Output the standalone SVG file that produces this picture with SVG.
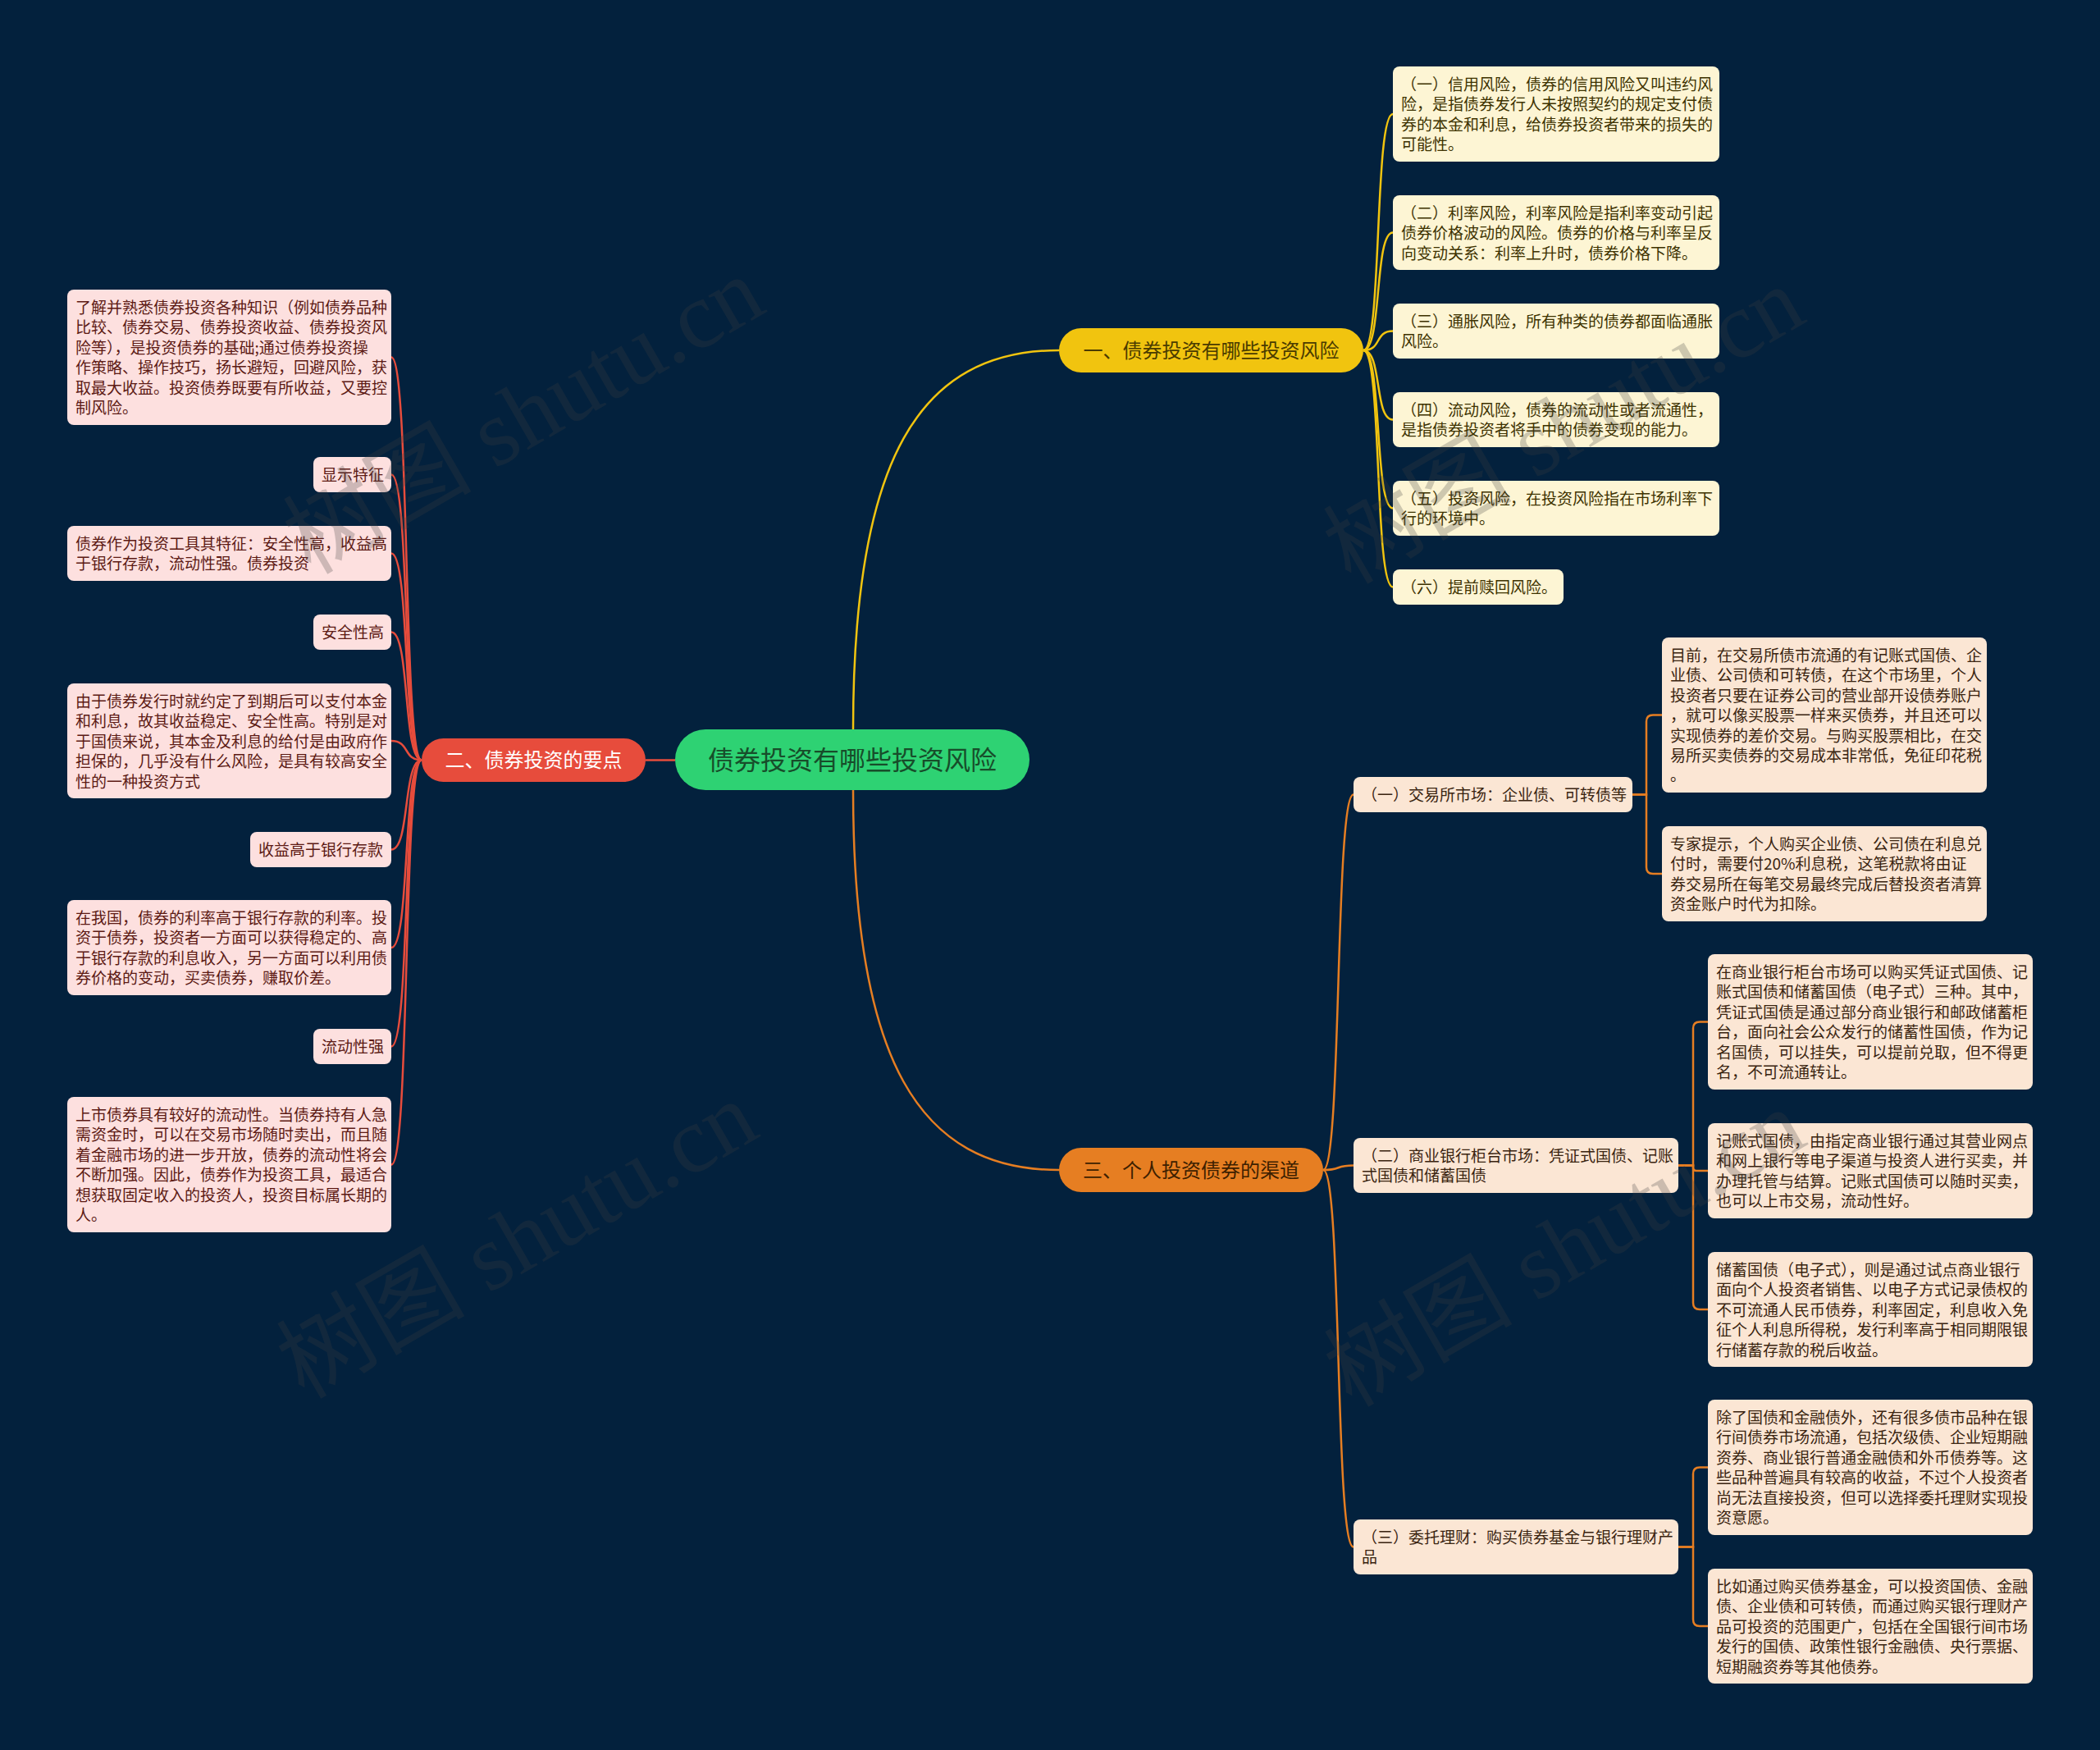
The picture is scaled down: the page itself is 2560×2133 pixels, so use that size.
<svg xmlns="http://www.w3.org/2000/svg" width="2560" height="2133" viewBox="0 0 2560 2133">
<style>
.t{font-family:"Noto Sans CJK SC","Noto Sans",sans-serif;}
.leafy rect{fill:#fdf5d4;}
.leafy text{fill:#3d3200;font-size:19px;}
.leafo rect{fill:#fbe6d4;}
.leafo text{fill:#3a2410;font-size:19px;}
.leafr rect{fill:#fde0df;}
.leafr text{fill:#5c1a14;font-size:19px;}
.cy{fill:none;stroke:#f1c40f;stroke-width:2.5;}
.cr{fill:none;stroke:#e74c3c;stroke-width:2.5;}
.co{fill:none;stroke:#e67e22;stroke-width:2.5;}
.wm{font-family:"Liberation Serif","Noto Sans CJK SC",serif;font-size:115px;fill:#404040;opacity:0.25;}
</style>
<rect x="0" y="0" width="2560" height="2133" fill="#03213d"/>

<g id="connectors">
<path class="cy" d="M 1040 889 C 1040 560, 1120 427, 1291 427"/>
<path class="co" d="M 1040 963 C 1040 1293, 1120 1426, 1291 1426"/>
<path class="cr" d="M 823 926.5 L 787 926.5"/>
<path class="cy" d="M 1662 427 C 1685 427, 1675 139, 1698 139"/>
<path class="cy" d="M 1662 427 C 1685 427, 1675 283.5, 1698 283.5"/>
<path class="cy" d="M 1662 427 C 1685 427, 1675 403.5, 1698 403.5"/>
<path class="cy" d="M 1662 427 C 1685 427, 1675 511.5, 1698 511.5"/>
<path class="cy" d="M 1662 427 C 1685 427, 1675 619.5, 1698 619.5"/>
<path class="cy" d="M 1662 427 C 1685 427, 1675 715.5, 1698 715.5"/>
<path class="cr" d="M 514 926.5 C 491 926.5, 500 435.5, 477 435.5"/>
<path class="cr" d="M 514 926.5 C 491 926.5, 500 578.5, 477 578.5"/>
<path class="cr" d="M 514 926.5 C 491 926.5, 500 674.5, 477 674.5"/>
<path class="cr" d="M 514 926.5 C 491 926.5, 500 770.5, 477 770.5"/>
<path class="cr" d="M 514 926.5 C 491 926.5, 500 903, 477 903"/>
<path class="cr" d="M 514 926.5 C 491 926.5, 500 1035.5, 477 1035.5"/>
<path class="cr" d="M 514 926.5 C 491 926.5, 500 1155, 477 1155"/>
<path class="cr" d="M 514 926.5 C 491 926.5, 500 1275.5, 477 1275.5"/>
<path class="cr" d="M 514 926.5 C 491 926.5, 500 1419.5, 477 1419.5"/>
<path class="co" d="M 1613 1426 C 1636 1426, 1627 968.5, 1650 968.5"/>
<path class="co" d="M 1613 1426 C 1636 1426, 1627 1420.5, 1650 1420.5"/>
<path class="co" d="M 1613 1426 C 1636 1426, 1627 1885.5, 1650 1885.5"/>
<path class="co" d="M 1990 968.5 H 2007 V 879.5 Q 2007 871.5 2015 871.5 H 2026"/>
<path class="co" d="M 1990 968.5 H 2007 V 1057 Q 2007 1065 2015 1065 H 2026"/>
<path class="co" d="M 2046 1420.5 H 2064 V 1253.5 Q 2064 1245.5 2072 1245.5 H 2082"/>
<path class="co" d="M 2046 1420.5 H 2064 V 1423 Q 2064 1427 2068 1427 H 2082"/>
<path class="co" d="M 2046 1420.5 H 2064 V 1588 Q 2064 1596 2072 1596 H 2082"/>
<path class="co" d="M 2046 1885.5 H 2064 V 1796.5 Q 2064 1788.5 2072 1788.5 H 2082"/>
<path class="co" d="M 2046 1885.5 H 2064 V 1974 Q 2064 1982 2072 1982 H 2082"/>
</g>

<g id="root">
<rect x="823" y="889" width="432" height="74" rx="37" fill="#2ed273"/>
<text class="t" x="1039" y="937.5" text-anchor="middle" font-size="32" fill="#174d2a">债券投资有哪些投资风险</text>
</g>

<g id="branch1">
<rect x="1291" y="400" width="371" height="54" rx="27" fill="#f1c40f"/>
<text class="t" x="1476.5" y="435.5" text-anchor="middle" font-size="24" fill="#4a3b00">一、债券投资有哪些投资风险</text>
</g>
<g id="branch2">
<rect x="514" y="900" width="273" height="53" rx="26.5" fill="#e74c3c"/>
<text class="t" x="650.5" y="935" text-anchor="middle" font-size="24" fill="#ffffff">二、债券投资的要点</text>
</g>
<g id="branch3">
<rect x="1291" y="1399" width="322" height="54" rx="27" fill="#e67e22"/>
<text class="t" x="1452" y="1434.5" text-anchor="middle" font-size="24" fill="#3d1f00">三、个人投资债券的渠道</text>
</g>

<g id="y1" class="leafy"><rect x="1698" y="81" width="398" height="116" rx="8"/>
<text class="t" x="1708" y="110">（一）信用风险，债券的信用风险又叫违约风<tspan x="1708" dy="24.4">险，是指债券发行人未按照契约的规定支付债</tspan><tspan x="1708" dy="24.4">券的本金和利息，给债券投资者带来的损失的</tspan><tspan x="1708" dy="24.4">可能性。</tspan></text></g>
<g id="y2" class="leafy"><rect x="1698" y="238" width="398" height="91" rx="8"/>
<text class="t" x="1708" y="267">（二）利率风险，利率风险是指利率变动引起<tspan x="1708" dy="24.4">债券价格波动的风险。债券的价格与利率呈反</tspan><tspan x="1708" dy="24.4">向变动关系：利率上升时，债券价格下降。</tspan></text></g>
<g id="y3" class="leafy"><rect x="1698" y="370" width="398" height="67" rx="8"/>
<text class="t" x="1708" y="399">（三）通胀风险，所有种类的债券都面临通胀<tspan x="1708" dy="24.4">风险。</tspan></text></g>
<g id="y4" class="leafy"><rect x="1698" y="478" width="398" height="67" rx="8"/>
<text class="t" x="1708" y="507">（四）流动风险，债券的流动性或者流通性，<tspan x="1708" dy="24.4">是指债券投资者将手中的债券变现的能力。</tspan></text></g>
<g id="y5" class="leafy"><rect x="1698" y="586" width="398" height="67" rx="8"/>
<text class="t" x="1708" y="615">（五）投资风险，在投资风险指在市场利率下<tspan x="1708" dy="24.4">行的环境中。</tspan></text></g>
<g id="y6" class="leafy"><rect x="1698" y="694" width="208" height="43" rx="8"/>
<text class="t" x="1708" y="723">（六）提前赎回风险。</text></g>

<g id="r1" class="leafr"><rect x="82" y="353" width="395" height="165" rx="8"/>
<text class="t" x="92" y="382">了解并熟悉债券投资各种知识（例如债券品种<tspan x="92" dy="24.4">比较、债券交易、债券投资收益、债券投资风</tspan><tspan x="92" dy="24.4">险等），是投资债券的基础;通过债券投资操</tspan><tspan x="92" dy="24.4">作策略、操作技巧，扬长避短，回避风险，获</tspan><tspan x="92" dy="24.4">取最大收益。投资债券既要有所收益，又要控</tspan><tspan x="92" dy="24.4">制风险。</tspan></text></g>
<g id="r2" class="leafr"><rect x="382" y="557" width="95" height="43" rx="8"/>
<text class="t" x="392" y="586">显示特征</text></g>
<g id="r3" class="leafr"><rect x="82" y="641" width="395" height="67" rx="8"/>
<text class="t" x="92" y="670">债券作为投资工具其特征：安全性高，收益高<tspan x="92" dy="24.4">于银行存款，流动性强。债券投资</tspan></text></g>
<g id="r4" class="leafr"><rect x="382" y="749" width="95" height="43" rx="8"/>
<text class="t" x="392" y="778">安全性高</text></g>
<g id="r5" class="leafr"><rect x="82" y="833" width="395" height="140" rx="8"/>
<text class="t" x="92" y="862">由于债券发行时就约定了到期后可以支付本金<tspan x="92" dy="24.4">和利息，故其收益稳定、安全性高。特别是对</tspan><tspan x="92" dy="24.4">于国债来说，其本金及利息的给付是由政府作</tspan><tspan x="92" dy="24.4">担保的，几乎没有什么风险，是具有较高安全</tspan><tspan x="92" dy="24.4">性的一种投资方式</tspan></text></g>
<g id="r6" class="leafr"><rect x="305" y="1014" width="172" height="43" rx="8"/>
<text class="t" x="315" y="1043">收益高于银行存款</text></g>
<g id="r7" class="leafr"><rect x="82" y="1097" width="395" height="116" rx="8"/>
<text class="t" x="92" y="1126">在我国，债券的利率高于银行存款的利率。投<tspan x="92" dy="24.4">资于债券，投资者一方面可以获得稳定的、高</tspan><tspan x="92" dy="24.4">于银行存款的利息收入，另一方面可以利用债</tspan><tspan x="92" dy="24.4">券价格的变动，买卖债券，赚取价差。</tspan></text></g>
<g id="r8" class="leafr"><rect x="382" y="1254" width="95" height="43" rx="8"/>
<text class="t" x="392" y="1283">流动性强</text></g>
<g id="r9" class="leafr"><rect x="82" y="1337" width="395" height="165" rx="8"/>
<text class="t" x="92" y="1366">上市债券具有较好的流动性。当债券持有人急<tspan x="92" dy="24.4">需资金时，可以在交易市场随时卖出，而且随</tspan><tspan x="92" dy="24.4">着金融市场的进一步开放，债券的流动性将会</tspan><tspan x="92" dy="24.4">不断加强。因此，债券作为投资工具，最适合</tspan><tspan x="92" dy="24.4">想获取固定收入的投资人，投资目标属长期的</tspan><tspan x="92" dy="24.4">人。</tspan></text></g>

<g id="s1" class="leafo"><rect x="1650" y="947" width="340" height="43" rx="8"/>
<text class="t" x="1660" y="976">（一）交易所市场：企业债、可转债等</text></g>
<g id="s2" class="leafo"><rect x="1650" y="1387" width="396" height="67" rx="8"/>
<text class="t" x="1660" y="1416">（二）商业银行柜台市场：凭证式国债、记账<tspan x="1660" dy="24.4">式国债和储蓄国债</tspan></text></g>
<g id="s3" class="leafo"><rect x="1650" y="1852" width="396" height="67" rx="8"/>
<text class="t" x="1660" y="1881">（三）委托理财：购买债券基金与银行理财产<tspan x="1660" dy="24.4">品</tspan></text></g>

<g id="oA" class="leafo"><rect x="2026" y="777" width="396" height="189" rx="8"/>
<text class="t" x="2036" y="806">目前，在交易所债市流通的有记账式国债、企<tspan x="2036" dy="24.4">业债、公司债和可转债，在这个市场里，个人</tspan><tspan x="2036" dy="24.4">投资者只要在证券公司的营业部开设债券账户</tspan><tspan x="2036" dy="24.4">，就可以像买股票一样来买债券，并且还可以</tspan><tspan x="2036" dy="24.4">实现债券的差价交易。与购买股票相比，在交</tspan><tspan x="2036" dy="24.4">易所买卖债券的交易成本非常低，免征印花税</tspan><tspan x="2036" dy="24.4">。</tspan></text></g>
<g id="oB" class="leafo"><rect x="2026" y="1007" width="396" height="116" rx="8"/>
<text class="t" x="2036" y="1036">专家提示，个人购买企业债、公司债在利息兑<tspan x="2036" dy="24.4">付时，需要付20%利息税，这笔税款将由证</tspan><tspan x="2036" dy="24.4">券交易所在每笔交易最终完成后替投资者清算</tspan><tspan x="2036" dy="24.4">资金账户时代为扣除。</tspan></text></g>
<g id="oC" class="leafo"><rect x="2082" y="1163" width="396" height="165" rx="8"/>
<text class="t" x="2092" y="1192">在商业银行柜台市场可以购买凭证式国债、记<tspan x="2092" dy="24.4">账式国债和储蓄国债（电子式）三种。其中，</tspan><tspan x="2092" dy="24.4">凭证式国债是通过部分商业银行和邮政储蓄柜</tspan><tspan x="2092" dy="24.4">台，面向社会公众发行的储蓄性国债，作为记</tspan><tspan x="2092" dy="24.4">名国债，可以挂失，可以提前兑取，但不得更</tspan><tspan x="2092" dy="24.4">名，不可流通转让。</tspan></text></g>
<g id="oD" class="leafo"><rect x="2082" y="1369" width="396" height="116" rx="8"/>
<text class="t" x="2092" y="1398">记账式国债，由指定商业银行通过其营业网点<tspan x="2092" dy="24.4">和网上银行等电子渠道与投资人进行买卖，并</tspan><tspan x="2092" dy="24.4">办理托管与结算。记账式国债可以随时买卖，</tspan><tspan x="2092" dy="24.4">也可以上市交易，流动性好。</tspan></text></g>
<g id="oE" class="leafo"><rect x="2082" y="1526" width="396" height="140" rx="8"/>
<text class="t" x="2092" y="1555">储蓄国债（电子式），则是通过试点商业银行<tspan x="2092" dy="24.4">面向个人投资者销售、以电子方式记录债权的</tspan><tspan x="2092" dy="24.4">不可流通人民币债券，利率固定，利息收入免</tspan><tspan x="2092" dy="24.4">征个人利息所得税，发行利率高于相同期限银</tspan><tspan x="2092" dy="24.4">行储蓄存款的税后收益。</tspan></text></g>
<g id="oF" class="leafo"><rect x="2082" y="1706" width="396" height="165" rx="8"/>
<text class="t" x="2092" y="1735">除了国债和金融债外，还有很多债市品种在银<tspan x="2092" dy="24.4">行间债券市场流通，包括次级债、企业短期融</tspan><tspan x="2092" dy="24.4">资券、商业银行普通金融债和外币债券等。这</tspan><tspan x="2092" dy="24.4">些品种普遍具有较高的收益，不过个人投资者</tspan><tspan x="2092" dy="24.4">尚无法直接投资，但可以选择委托理财实现投</tspan><tspan x="2092" dy="24.4">资意愿。</tspan></text></g>
<g id="oG" class="leafo"><rect x="2082" y="1912" width="396" height="140" rx="8"/>
<text class="t" x="2092" y="1941">比如通过购买债券基金，可以投资国债、金融<tspan x="2092" dy="24.4">债、企业债和可转债，而通过购买银行理财产</tspan><tspan x="2092" dy="24.4">品可投资的范围更广，包括在全国银行间市场</tspan><tspan x="2092" dy="24.4">发行的国债、政策性银行金融债、央行票据、</tspan><tspan x="2092" dy="24.4">短期融资券等其他债券。</tspan></text></g>

<g id="watermarks">
<text class="wm" text-anchor="middle" transform="translate(658,540) rotate(-30)">树图 shutu.cn</text>
<text class="wm" text-anchor="middle" transform="translate(1926,552) rotate(-30)">树图 shutu.cn</text>
<text class="wm" text-anchor="middle" transform="translate(650,1545) rotate(-30)">树图 shutu.cn</text>
<text class="wm" text-anchor="middle" transform="translate(1927,1555) rotate(-30)">树图 shutu.cn</text>
</g>
</svg>
